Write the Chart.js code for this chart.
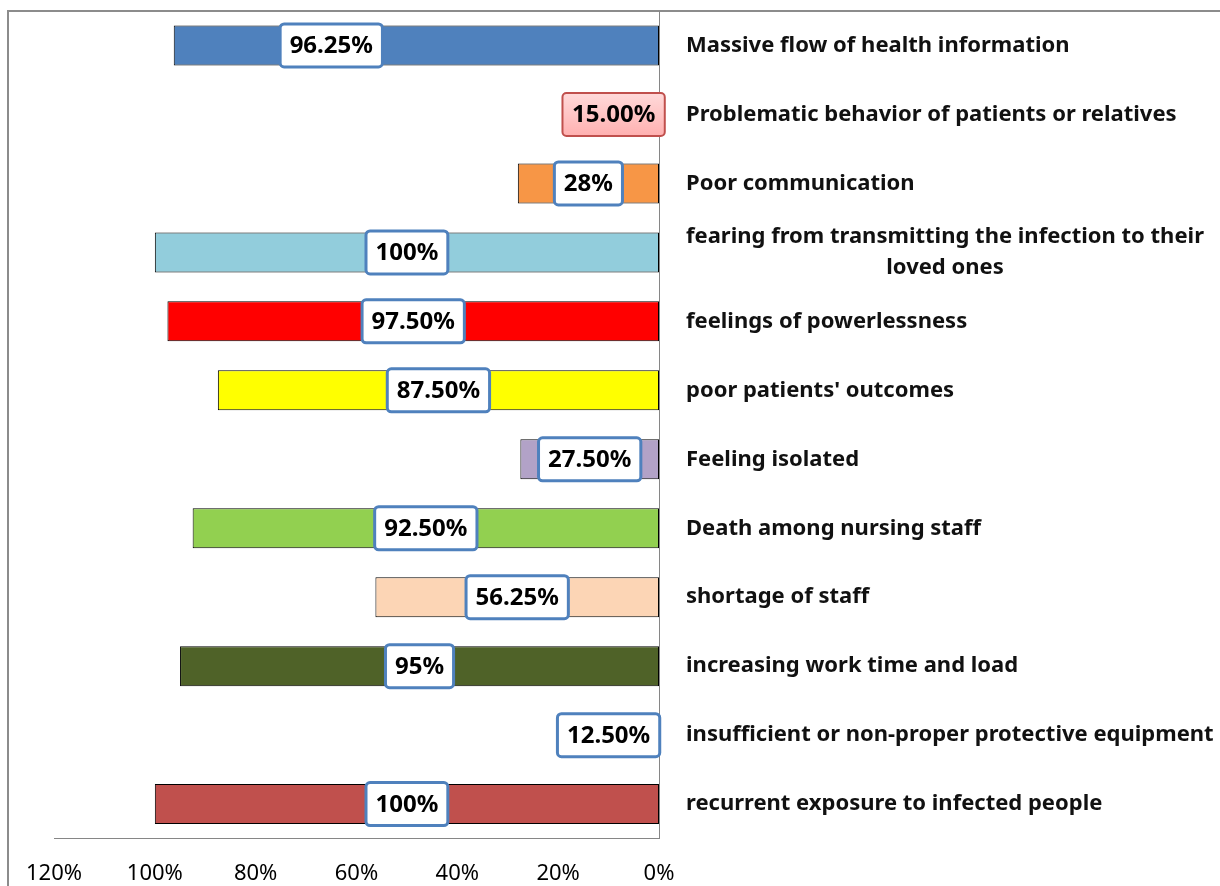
<!DOCTYPE html>
<html>
<head>
<meta charset="utf-8">
<script src="https://cdn.jsdelivr.net/npm/chart.js@4.4.0/dist/chart.umd.min.js"></script>
<style>
    html, body { margin: 0; padding: 0; background: #fff; }
    #wrap { width: 1220px; height: 886px; }
</style>
</head>
<body>
<div id="wrap"><canvas id="chart" width="1220" height="886"></canvas></div>
<script>
// stressors, top to bottom
const categories = [
    ["Massive flow of health information"],
    ["Problematic behavior of patients or relatives"],
    ["Poor communication"],
    ["fearing from transmitting the infection to their", "loved ones"],
    ["feelings of powerlessness"],
    ["poor patients' outcomes"],
    ["Feeling isolated"],
    ["Death among nursing staff"],
    ["shortage of staff"],
    ["increasing work time and load"],
    ["insufficient or non-proper protective equipment"],
    ["recurrent exposure to infected people"]
];
const values = [96.25, 15, 28, 100, 97.5, 87.5, 27.5, 92.5, 56.25, 95, 12.5, 100];
const valueLabels = ["96.25%", "15.00%", "28%", "100%", "97.50%", "87.50%", "27.50%", "92.50%", "56.25%", "95%", "12.50%", "100%"];
const barColors = ["#4F81BD", "#000000", "#F79646", "#92CDDC", "#FF0000", "#FFFF00", "#B2A2C7", "#92D050", "#FCD5B5", "#4F6228", "#FFFFFF", "#C0504D"];
const tickValues = [0, 20, 40, 60, 80, 100, 120];

const FONT = '"Noto Sans", sans-serif';

const decorPlugin = {
    id: "decor",
    beforeDraw(chart) {
        const ctx = chart.ctx;
        ctx.save();
        ctx.strokeStyle = "#8c8c8c";
        ctx.lineWidth = 2;
        ctx.beginPath();
        ctx.moveTo(8, chart.height + 5);
        ctx.lineTo(8, 11);
        ctx.lineTo(chart.width + 5, 11);
        ctx.stroke();
        ctx.restore();
    },
    afterDatasetsDraw(chart, args, opts) {
        const ctx = chart.ctx;
        const xScale = chart.scales.x;
        const yScale = chart.scales.y;
        const meta = chart.getDatasetMeta(0);
        ctx.save();

        // category labels right of the axis
        ctx.font = "bold 22px " + FONT;
        ctx.fillStyle = "#111";
        ctx.textBaseline = "middle";
        ctx.textAlign = "left";
        categories.forEach((lines, i) => {
            const cy = yScale.getPixelForValue(i);
            const widths = lines.map((l) => ctx.measureText(l).width);
            const blockW = Math.max(...widths);
            lines.forEach((l, j) => {
                const ly = cy + (j - (lines.length - 1) / 2) * 31;
                ctx.fillText(l, yScale.left + 27 + (blockW - widths[j]) / 2, ly);
            });
        });

        // value label boxes
        ctx.font = "bold 24px " + FONT;
        ctx.textAlign = "center";
        meta.data.forEach((bar, i) => {
            const p = bar.getProps(["x", "y", "base"], true);
            const cx = opts.moved[i] !== undefined ? xScale.getPixelForValue(opts.moved[i]) : (p.x + p.base) / 2;
            const text = valueLabels[i];
            const w = ctx.measureText(text).width + 19;
            const h = 43;
            ctx.beginPath();
            ctx.roundRect(cx - w / 2, p.y - h / 2, w, h, 4);
            if (i === opts.pinkIndex) {
                const g = ctx.createLinearGradient(0, p.y - h / 2, 0, p.y + h / 2);
                g.addColorStop(0, "#ffdada");
                g.addColorStop(1, "#ffb0b0");
                ctx.fillStyle = g;
                ctx.fill();
                ctx.lineWidth = 2;
                ctx.strokeStyle = "#c0504d";
            } else {
                ctx.fillStyle = "#fff";
                ctx.fill();
                ctx.lineWidth = 3;
                ctx.strokeStyle = "#4f81bd";
            }
            ctx.stroke();
            ctx.fillStyle = "#000";
            ctx.fillText(text, cx, p.y + 1);
        });
        ctx.restore();
    }
};

new Chart(document.getElementById("chart"), {
    type: "bar",
    data: {
        labels: categories,
        datasets: [{
            data: values,
            backgroundColor: barColors,
            borderColor: "#000",
            borderWidth: 1,
            borderSkipped: false,
            barPercentage: 0.58,
            categoryPercentage: 1
        }]
    },
    options: {
        indexAxis: "y",
        responsive: false,
        animation: false,
        layout: { padding: { left: 54, right: 561, top: 11, bottom: -23 } },
        plugins: {
            legend: { display: false },
            tooltip: { enabled: false },
            decor: { moved: { 0: 65, 1: 9, 10: 10 }, pinkIndex: 1 }
        },
        scales: {
            x: {
                type: "linear",
                reverse: true,
                min: 0,
                max: 120,
                afterBuildTicks: (scale) => {
                    scale.ticks = tickValues.map((v) => ({ value: v }));
                },
                ticks: {
                    callback: (v) => v + "%",
                    font: { family: FONT, size: 22 },
                    color: "#000",
                    padding: 22,
                    maxRotation: 0
                },
                grid: { display: false, drawTicks: false },
                border: { display: true, color: "#868686", width: 1 }
            },
            y: {
                type: "category",
                position: "right",
                ticks: { display: false },
                grid: { display: false, drawTicks: false },
                border: { display: true, color: "#868686", width: 1 }
            }
        }
    },
    plugins: [decorPlugin]
});
</script>
</body>
</html>
